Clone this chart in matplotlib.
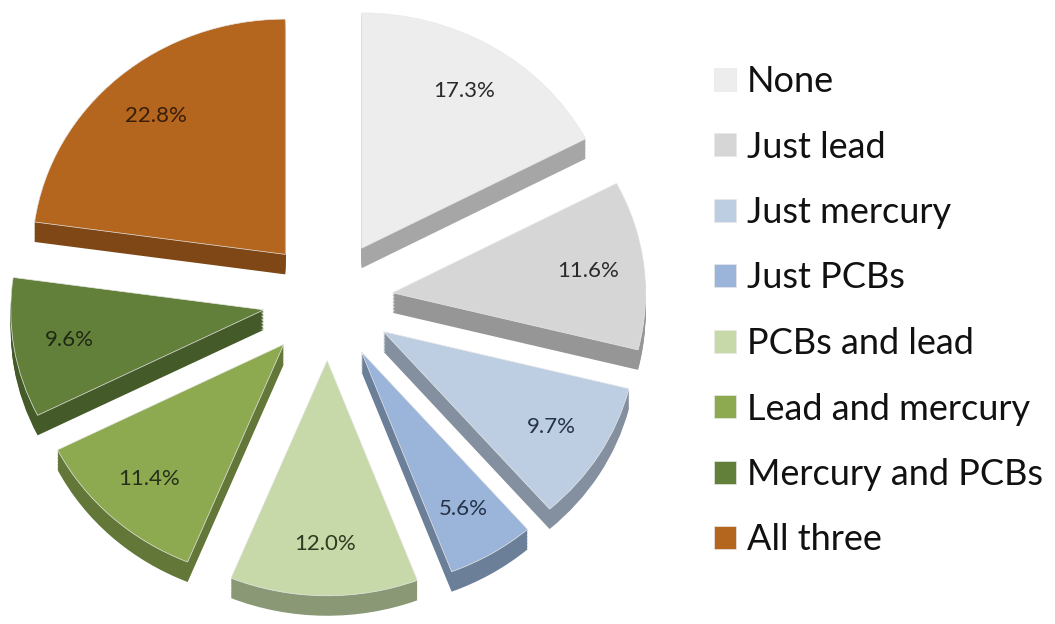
import matplotlib
matplotlib.use('Agg')
import matplotlib.pyplot as plt
import numpy as np
from matplotlib.colors import to_rgb

categories = ['None', 'Just lead', 'Just mercury', 'Just PCBs',
              'PCBs and lead', 'Lead and mercury', 'Mercury and PCBs', 'All three']
values = [17.3, 11.6, 9.7, 5.6, 12.0, 11.4, 9.6, 22.8]
colors = ['#EDEDED', '#D6D6D6', '#BDCEE3', '#9AB5D9',
          '#C7D9A9', '#8DAA50', '#62803A', '#B4651E']
label_colors = ['#2a2a2a', '#2a2a2a', '#26324a', '#26324a',
                '#2f3a20', '#26301a', '#1e2812', '#3a1e08']

W, H = 1055, 624
fig = plt.figure(figsize=(W / 100, H / 100), dpi=100)
fig.patch.set_facecolor('white')
ax = fig.add_axes([0, 0, 660 / W, 1])

explode = [0.257] * len(values)
depth = 0.085
nsteps = 14

def shade(c, f):
    return tuple(np.clip(np.array(to_rgb(c)) * f, 0, 1))

side_colors = [shade(c, 0.70) for c in colors]
for k in range(nsteps, 0, -1):
    ax.pie(values, explode=explode, colors=side_colors, startangle=90,
           counterclock=False, center=(0, -depth * k / nsteps), radius=1,
           wedgeprops=dict(linewidth=0, antialiased=True))

wedges, texts, autotexts = ax.pie(
    values, explode=explode, colors=colors, startangle=90, counterclock=False,
    autopct='%.1f%%', pctdistance=0.78, radius=1,
    wedgeprops=dict(linewidth=0.5, edgecolor='#e8e8e8'),
    textprops=dict(fontsize=16, family='Lato'))
for t, c in zip(autotexts, label_colors):
    t.set_color(c)

ax.set_aspect('auto')
ax.set_xlim(-1.296, 1.312)
ax.set_ylim(-1.377, 1.275)
ax.axis('off')

leg = fig.legend(wedges, categories, loc='upper left',
                 bbox_to_anchor=(714 / W, 1 - 65 / H), bbox_transform=fig.transFigure,
                 frameon=False, prop=dict(family='Lato', size=26),
                 handlelength=0.62, handleheight=0.62, handletextpad=0.3,
                 labelspacing=0.9, borderaxespad=0, borderpad=0)
for txt in leg.get_texts():
    txt.set_color('#111111')

fig.savefig('out.png', dpi=100, facecolor='white')
